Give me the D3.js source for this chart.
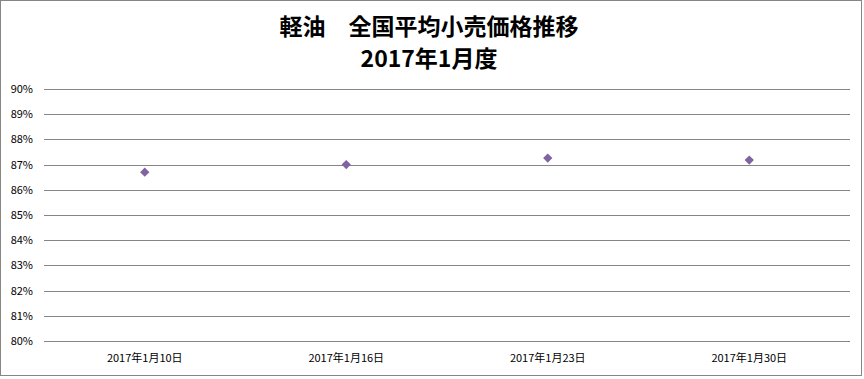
<!DOCTYPE html>
<html>
<head>
<meta charset="utf-8">
<script src="https://cdn.jsdelivr.net/npm/d3@7"></script>
<style>
  body { margin: 0; background: #fff; }
  svg text { font-family: "Noto Sans CJK JP", "Noto Sans", sans-serif; fill: #000; }
</style>
</head>
<body>
<svg id="chart" width="864" height="379"></svg>
<script>
// data
var dates = ["2017年1月10日", "2017年1月16日", "2017年1月23日", "2017年1月30日"];
var values = [0.867, 0.870, 0.8726, 0.8718];
var yTicks = [0.80, 0.81, 0.82, 0.83, 0.84, 0.85, 0.86, 0.87, 0.88, 0.89, 0.90];
var titleLines = ["軽油　全国平均小売価格推移", "2017年1月度"];

var svg = d3.select("#chart");
var margin = {top: 89, right: 14, bottom: 38, left: 44};
var width = 864 - margin.left - margin.right,
    height = 379 - margin.top - margin.bottom;

// outer chart border
svg.append("rect")
    .attr("x", 0.5).attr("y", 0.5)
    .attr("width", 861).attr("height", 375)
    .attr("fill", "#fff")
    .attr("stroke", "#868686");

svg.selectAll(".title")
    .data(titleLines).enter()
  .append("text")
    .attr("class", "title")
    .attr("x", 429)
    .attr("y", function(d, i) { return 35 + i * 32; })
    .attr("text-anchor", "middle")
    .style("font-size", "23px")
    .style("font-weight", "bold")
    .text(function(d) { return d; });

var x = d3.scaleBand().domain(dates).range([0, width]);
var y = d3.scaleLinear().domain([0.80, 0.90]).range([height, 0]);

var g = svg.append("g")
    .attr("transform", "translate(" + margin.left + "," + margin.top + ")");

var yAxis = d3.axisLeft(y)
    .tickValues(yTicks)
    .tickFormat(d3.format(".0%"))
    .tickSize(-width)
    .tickPadding(11);

g.append("g")
    .attr("class", "axis axis--y")
    .call(yAxis)
    .call(function(a) {
      a.select(".domain").remove();
      a.selectAll(".tick line").attr("stroke", "#868686").attr("shape-rendering", "crispEdges");
      a.selectAll(".tick text").style("font-size", "11px");
    });

var xAxis = d3.axisBottom(x).tickSize(0).tickPadding(13);

g.append("g")
    .attr("class", "axis axis--x")
    .attr("transform", "translate(0," + height + ")")
    .call(xAxis)
    .call(function(a) {
      a.select(".domain").remove();
      a.selectAll(".tick text").style("font-size", "11px");
    });

var diamond = d3.symbol().type(d3.symbolDiamond2).size(55);

g.selectAll(".pt")
    .data(values).enter()
  .append("path")
    .attr("class", "pt")
    .attr("d", diamond)
    .attr("transform", function(d, i) {
      return "translate(" + (x(dates[i]) + x.bandwidth() / 2) + "," + y(d) + ")";
    })
    .attr("fill", "#8064A2");
</script>
</body>
</html>
